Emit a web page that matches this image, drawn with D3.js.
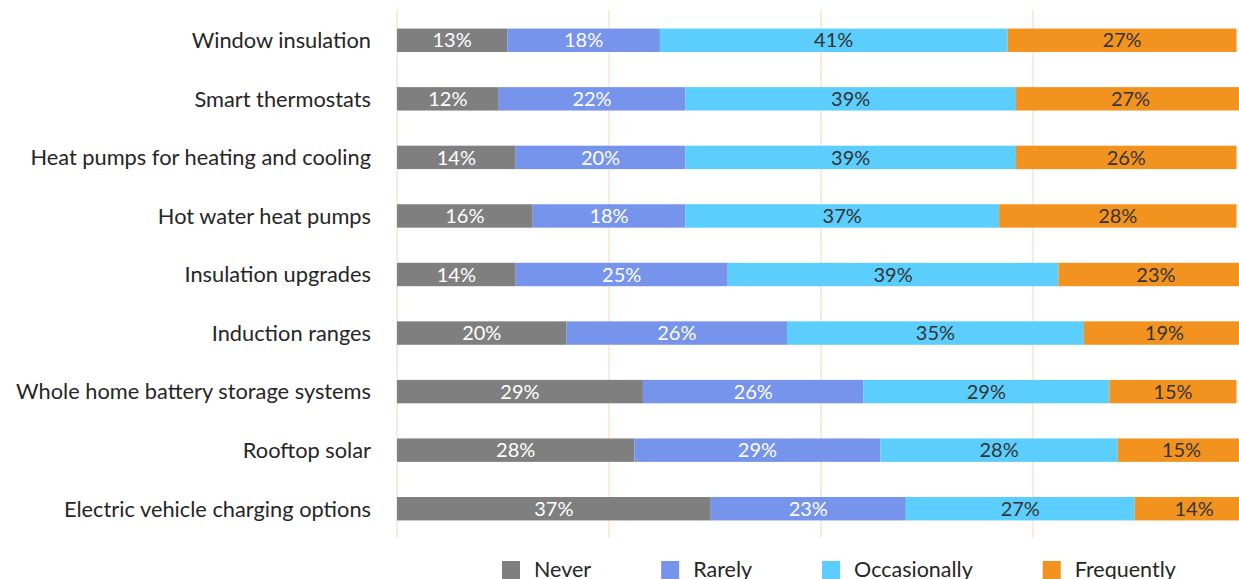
<!DOCTYPE html>
<meta charset="utf-8">
<style>
body, html {
  padding: 0;
  margin: 0;
  background: #fff;
}
svg {
  display: block;
  font-family: Lato, "Open Sans", sans-serif;
}
.grid line {
  stroke: #f9e4d2;
  stroke-width: 1.5px;
}
.cat {
  font-size: 21.8px;
  fill: #262626;
}
.lbl {
  font-size: 20px;
}
.legend text {
  font-size: 21.5px;
  fill: #262626;
}
</style>
<body>
<script src="https://d3js.org/d3.v7.min.js"></script>
<script>

var width = 1239,
    height = 579

var categories = [
  "Window insulation",
  "Smart thermostats",
  "Heat pumps for heating and cooling",
  "Hot water heat pumps",
  "Insulation upgrades",
  "Induction ranges",
  "Whole home battery storage systems",
  "Rooftop solar",
  "Electric vehicle charging options"
]

var seriesNames = ["Never", "Rarely", "Occasionally", "Frequently"]
var colors = ["#7f7f7f", "#7694ec", "#5bcefd", "#f3931f"]
var labelColors = ["#fff", "#fff", "#333", "#333"]

var never        = [13, 12, 14, 16, 14, 20, 29, 28, 37]
var rarely       = [18, 22, 20, 18, 25, 26, 26, 29, 23]
var occasionally = [41, 39, 39, 37, 39, 35, 29, 28, 27]
var frequently   = [27, 27, 26, 28, 23, 19, 15, 15, 14]

var gridTicks = [0, 25, 50, 75, 100]

var table = categories.map(function (c, i) {
  return {
    category: c,
    Never: never[i],
    Rarely: rarely[i],
    Occasionally: occasionally[i],
    Frequently: frequently[i]
  }
})

var stacked = d3.stack().keys(seriesNames)(table)

var x = d3.scaleLinear()
    .domain([0, 100])
    .range([397, 397 + 848])

var y = d3.scaleBand()
    .domain(categories)
    .range([11, 538])
    .paddingInner(0.6)
    .paddingOuter(0.3)

var svg = d3.select("body").append("svg")
    .attr("width", width)
    .attr("height", height)

// vertical gridlines
svg.append("g")
    .attr("class", "grid")
  .selectAll("line")
  .data(gridTicks)
  .enter().append("line")
    .attr("x1", function (d) { return x(d) })
    .attr("x2", function (d) { return x(d) })
    .attr("y1", 10)
    .attr("y2", 538)

// bars
var layer = svg.append("g")
  .selectAll("g")
  .data(stacked)
  .enter().append("g")
    .attr("fill", function (d, i) { return colors[i] })

layer.selectAll("rect")
  .data(function (d) { return d })
  .enter().append("rect")
    .attr("x", function (d) { return x(d[0]) })
    .attr("y", function (d) { return y(d.data.category) })
    .attr("width", function (d) { return x(d[1]) - x(d[0]) })
    .attr("height", y.bandwidth())

// value labels
layer.selectAll("text")
  .data(function (d) { return d })
  .enter().append("text")
    .attr("class", "lbl")
    .attr("x", function (d) { return (x(d[0]) + x(d[1])) / 2 })
    .attr("y", function (d) { return y(d.data.category) + y.bandwidth() / 2 })
    .attr("dy", "0.36em")
    .attr("text-anchor", "middle")
    .attr("fill", function () { return labelColors[seriesNames.indexOf(d3.select(this.parentNode).datum().key)] })
    .text(function (d) { return (d[1] - d[0]) + "%" })

// category labels
svg.append("g")
  .selectAll("text")
  .data(categories)
  .enter().append("text")
    .attr("class", "cat")
    .attr("x", 371)
    .attr("y", function (d) { return y(d) + y.bandwidth() / 2 })
    .attr("dy", "0.36em")
    .attr("text-anchor", "end")
    .text(function (d) { return d })

// legend
var legend = svg.append("g")
    .attr("class", "legend")

var lx = 502
seriesNames.forEach(function (name, i) {
  var g = legend.append("g").attr("transform", "translate(" + lx + ",561)")
  g.append("rect")
      .attr("width", 18)
      .attr("height", 18)
      .attr("fill", colors[i])
  var t = g.append("text")
      .attr("x", 32)
      .attr("y", 8)
      .attr("dy", "0.36em")
      .text(name)
  lx += 32 + t.node().getComputedTextLength() + 70
})

</script>
</body>
